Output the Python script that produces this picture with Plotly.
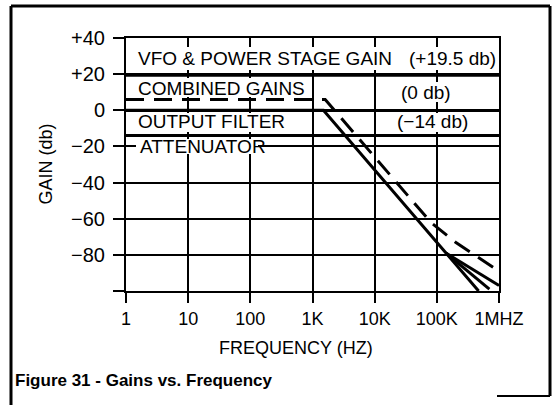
import plotly.graph_objects as go

# ---------------- data ----------------
freq_ticks = [1, 10, 100, 1000, 10000, 100000, 1000000]
freq_tick_labels = ["1", "10", "100", "1K", "10K", "100K", "1MHZ"]
gain_ticks = [-100, -80, -60, -40, -20, 0, 20, 40]
gain_tick_labels = ["", "\u221280", "\u221260", "\u221240", "\u221220", "0", "+20", "+40"]

vfo_freq = [1, 1000000]
vfo_gain = [19.5, 19.5]

atten_freq = [1, 1000000]
atten_gain = [-14, -14]

filter_freq = [1, 1500, 470000]
filter_gain = [0, 0, -100]

combined_freq = [1, 1600, 80000, 200000, 1000000]
combined_gain = [6, 6, -62, -73, -89]

rolloff_a_freq = [140000, 1000000]
rolloff_a_gain = [-79, -97]

rolloff_b_freq = [140000, 700000]
rolloff_b_gain = [-79, -99]

# ---------------- layout helpers ----------------
W, H = 557, 405
L, R, T, B = 126, 499, 38, 291  # plot area in pixels


def px(xp):
    return (xp - L) / (R - L)


def py(yp):
    return (B - yp) / (B - T)


FONT = "Liberation Sans"

fig = go.Figure()

line_style = dict(color="black", width=3)
fig.add_trace(go.Scatter(x=vfo_freq, y=vfo_gain, mode="lines",
                         line=dict(color="black", width=3.5), hoverinfo="skip"))
fig.add_trace(go.Scatter(x=atten_freq, y=atten_gain, mode="lines",
                         line=line_style, hoverinfo="skip"))
fig.add_trace(go.Scatter(x=filter_freq, y=filter_gain, mode="lines",
                         line=line_style, hoverinfo="skip"))
fig.add_trace(go.Scatter(x=combined_freq, y=combined_gain, mode="lines",
                         line=dict(color="black", width=3, dash="18px,10px"),
                         hoverinfo="skip"))
fig.add_trace(go.Scatter(x=rolloff_a_freq, y=rolloff_a_gain, mode="lines",
                         line=line_style, hoverinfo="skip"))
fig.add_trace(go.Scatter(x=rolloff_b_freq, y=rolloff_b_gain, mode="lines",
                         line=line_style, hoverinfo="skip"))

# white boxes behind labels (they only cover gridlines, not the curves)
label_boxes = [
    (130, 47, 496, 70),
    (130, 78, 310, 97),
    (398, 82, 458, 102),
    (130, 113, 293, 132),
    (393, 113, 479, 132),
    (136, 139, 258, 154),
]
shapes = []
for x0, y0, x1, y1 in label_boxes:
    shapes.append(dict(type="rect", xref="paper", yref="paper",
                       x0=px(x0), x1=px(x1), y0=py(y1), y1=py(y0),
                       fillcolor="white", line=dict(width=0), layer="above"))

# outer frame
frame = dict(color="black", width=3)
shapes += [
    dict(type="line", xref="paper", yref="paper", x0=px(11), x1=px(11),
         y0=py(6), y1=py(405), line=frame),
    dict(type="line", xref="paper", yref="paper", x0=px(11), x1=px(550),
         y0=py(6), y1=py(6), line=frame),
    dict(type="line", xref="paper", yref="paper", x0=px(550), x1=px(550),
         y0=py(6), y1=py(396), line=frame),
    dict(type="line", xref="paper", yref="paper", x0=px(497), x1=px(550),
         y0=py(396), y1=py(396), line=dict(color="black", width=2)),
]

lab_font = dict(family=FONT, size=19, color="black")
annotations = [
    dict(text="VFO & POWER STAGE GAIN", x=px(136), y=py(58), xanchor="left"),
    dict(text="(+19.5 db)", x=px(498), y=py(58), xanchor="right"),
    dict(text="COMBINED GAINS", x=px(136), y=py(88), xanchor="left"),
    dict(text="(0 db)", x=px(399), y=py(92), xanchor="left"),
    dict(text="OUTPUT FILTER", x=px(136), y=py(122), xanchor="left"),
    dict(text="(\u221214 db)", x=px(395), y=py(122), xanchor="left"),
    dict(text="ATTENUATOR", x=px(138), y=py(146), xanchor="left"),
]
for a in annotations:
    a.update(xref="paper", yref="paper", yanchor="middle", showarrow=False,
             font=lab_font)

annotations += [
    dict(text="GAIN (db)", x=px(45), y=0.5, xref="paper", yref="paper",
         textangle=-90, showarrow=False, xanchor="center", yanchor="middle",
         font=dict(family=FONT, size=18, color="black")),
    dict(text="FREQUENCY (HZ)", x=px(296), y=py(348), xref="paper", yref="paper",
         showarrow=False, xanchor="center", yanchor="middle",
         font=dict(family=FONT, size=18, color="black")),
    dict(text="<b>Figure 31 - Gains vs. Frequency</b>", x=px(13), y=py(380),
         xref="paper", yref="paper", showarrow=False, xanchor="left",
         yanchor="middle", font=dict(family=FONT, size=17, color="black")),
]

fig.update_layout(
    width=W, height=H,
    margin=dict(l=L, r=W - R, t=T, b=H - B, pad=0, autoexpand=False),
    paper_bgcolor="white", plot_bgcolor="white",
    showlegend=False,
    shapes=shapes, annotations=annotations,
    font=dict(family=FONT, color="black"),
)

fig.update_xaxes(type="log", range=[0, 6], tickvals=freq_ticks,
                 ticktext=freq_tick_labels, showgrid=True, gridcolor="black",
                 gridwidth=2, showline=True, linecolor="black", linewidth=2,
                 mirror=True, ticks="outside", ticklen=10, tickwidth=2,
                 tickcolor="black", tickfont=dict(family=FONT, size=18),
                 zeroline=False, automargin=False)
fig.update_yaxes(range=[-100, 40], tickvals=gain_ticks,
                 ticktext=gain_tick_labels, showgrid=True, gridcolor="black",
                 gridwidth=2, showline=True, linecolor="black", linewidth=2,
                 mirror=True, ticks="outside", ticklen=11, tickwidth=2,
                 tickcolor="black", tickfont=dict(family=FONT, size=20),
                 ticklabelstandoff=4,
                 zeroline=True, zerolinecolor="black", zerolinewidth=2.5,
                 automargin=False)

fig.write_html("out.html", config={"displayModeBar": False},
               post_script="document.body.style.margin='0';")
